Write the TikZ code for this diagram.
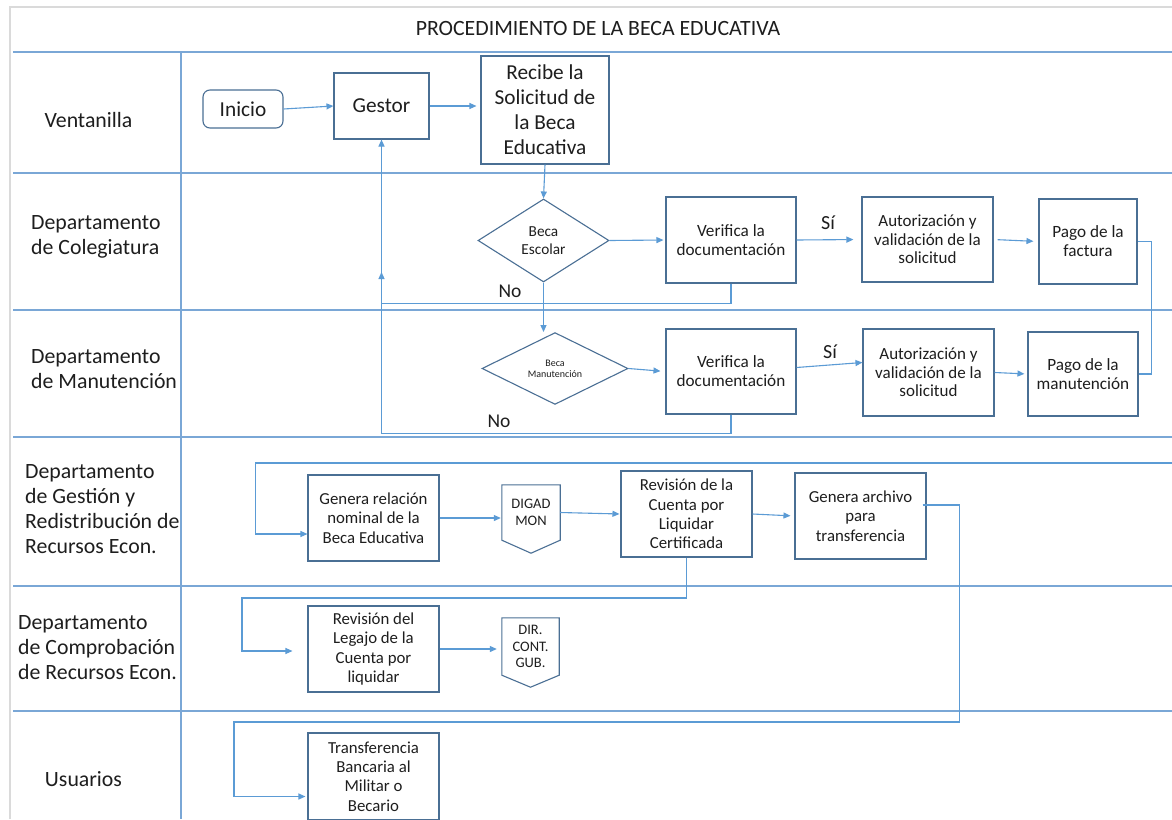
\documentclass[tikz,border=0pt]{standalone}
\usepackage{fontspec}
\setmainfont{Carlito}
\usetikzlibrary{arrows.meta,shapes.geometric,calc}
\definecolor{lanec}{HTML}{7AA7D6}
\definecolor{boxc}{HTML}{4A6F94}
\definecolor{arrc}{HTML}{5B9BD5}
\definecolor{txt}{HTML}{1E1E1E}
\definecolor{edgec}{HTML}{DADADA}
\begin{document}
\begin{tikzpicture}[x=1pt,y=-1pt,
  box/.style={draw=boxc, line width=1.1pt, rectangle, inner sep=0pt, align=center, text=txt},
  dia/.style={draw=boxc, line width=1.1pt, diamond, inner sep=0pt, align=center, text=txt},
  lbl/.style={inner sep=0pt, text=txt},
  lane/.style={draw=lanec, line width=1.4pt},
  conn/.style={draw=arrc, line width=1.1pt},
  arr/.style={conn, -{Triangle[length=7pt,width=6pt]}},
  fa/.style={font=\fontsize{21.8}{25}\selectfont},
  fg/.style={font=\fontsize{21.3}{25}\selectfont},
  ft/.style={font=\fontsize{21.8}{24}\selectfont},
  fv/.style={font=\fontsize{17.2}{19}\selectfont},
  fb/.style={font=\fontsize{16.8}{19.3}\selectfont},
  fau/.style={font=\fontsize{17}{18.7}\selectfont},
  fd/.style={font=\fontsize{15.3}{18}\selectfont},
  fm/.style={font=\fontsize{10}{11}\selectfont},
  fo/.style={font=\fontsize{14.5}{16.5}\selectfont},
  fs/.style={font=\fontsize{20}{22}\selectfont},
  fn/.style={font=\fontsize{19.5}{23}\selectfont}]
\useasboundingbox (0,0) rectangle (1172,819);
\clip (0,0) rectangle (1172,819);
\fill[white] (0,0) rectangle (1172,819);
% page edges
\draw[edgec, line width=2pt] (10,819) -- (10,7) -- (1172,7);
% lanes
\foreach \yy in {52,173,310,437,586,711}{
  \draw[lane] (13,\yy) -- (1172,\yy);
}
\draw[lane] (181,52) -- (181,819);
% title
\node[lbl, ft] (title) at (598,29) {PROCEDIMIENTO DE LA BECA EDUCATIVA};
% lane labels
\node[lbl, fa] (l1) at (88.5,120) {Ventanilla};
\node[lbl, fa, anchor=west, align=left] (l2) at (31,236.5) {Departamento\\de Colegiatura};
\node[lbl, fa, anchor=west, align=left] (l3) at (31,369) {Departamento\\de Manutención};
\node[lbl, fa, anchor=west, align=left] (l4) at (25,509.5) {Departamento\\de Gestión y\\Redistribución de\\Recursos Econ.};
\node[lbl, fa, anchor=west, align=left] (l5) at (18,648) {Departamento\\de Comprobación\\de Recursos Econ.};
\node[lbl, fa] (l6) at (83.5,779) {Usuarios};
% Ventanilla
\node[box, fg, rounded corners=7pt, minimum width=80pt, minimum height=38pt] (inicio) at (243,109) {Inicio};
\node[box, fg, minimum width=95pt, minimum height=66pt] (gestor) at (381.5,106) {Gestor};
\node[box, fg, minimum width=128pt, minimum height=108pt] (recibe) at (545,110) {Recibe la\\Solicitud de\\la Beca\\Educativa};
% Colegiatura
\node[dia, fd, minimum width=131pt, minimum height=83pt] (d1) at (543.5,240.5) {Beca\\Escolar};
\node[box, fv, minimum width=130pt, minimum height=86pt] (ver1) at (731,240) {Verifica la\\documentación};
\node[box, fau, minimum width=131pt, minimum height=85pt] (aut1) at (927.5,239.5) {Autorización y\\validación de la\\solicitud};
\node[box, fv, minimum width=98pt, minimum height=85pt] (pago1) at (1088,241.5) {Pago de la\\factura};
% Manutencion
\node[dia, fm, minimum width=146pt, minimum height=61pt] (d2) at (555,368.5) {Beca\\Manutención};
\node[box, fv, minimum width=130pt, minimum height=85pt] (ver2) at (731,371.5) {Verifica la\\documentación};
\node[box, fau, minimum width=131pt, minimum height=87pt] (aut2) at (928.5,372.5) {Autorización y\\validación de la\\solicitud};
\node[box, fv, minimum width=110pt, minimum height=84pt] (pago2) at (1083,374) {Pago de la\\manutención};
% Gestion
\node[box, fb, minimum width=131pt, minimum height=86pt] (genera) at (373.5,518) {Genera relación\\nominal de la\\Beca Educativa};
\node[lbl, fo, align=center, minimum width=58pt, minimum height=55pt] (digad) at (531,512.5) {DIGAD\\MON};
\draw[boxc, line width=1.1pt] (digad.north west) -- (digad.north east) -- (digad.south east) -- ($(digad.south)+(0,13)$) -- (digad.south west) -- cycle;
\node[box, fb, minimum width=131pt, minimum height=86pt] (revc) at (686.5,514) {Revisión de la\\Cuenta por\\Liquidar\\Certificada};
\node[box, fb, minimum width=131pt, minimum height=86pt] (genarch) at (860.5,516) {Genera archivo\\para\\transferencia};
% Comprobacion
\node[box, fb, minimum width=131pt, minimum height=86pt] (legajo) at (373.5,649) {Revisión del\\Legajo de la\\Cuenta por\\liquidar};
\node[lbl, fo, align=center, minimum width=57pt, minimum height=57pt] (dir) at (530.5,646.5) {DIR.\\CONT.\\GUB.};
\draw[boxc, line width=1.1pt] (dir.north west) -- (dir.north east) -- (dir.south east) -- ($(dir.south)+(0,12)$) -- (dir.south west) -- cycle;
% Usuarios
\node[box, fb, minimum width=131pt, minimum height=87pt] (transf) at (373.5,776.5) {Transferencia\\Bancaria al\\Militar o\\Becario};
% connectors
\draw[arr] (inicio.east) -- (gestor.west);
\draw[arr, shorten >=4pt] (gestor.east) -- (gestor.east -| recibe.west);
\draw[arr] (recibe.south) -- (d1.north);
\draw[arr, shorten >=2pt] (d1.east) -- (ver1.west);
\draw[arr, shorten >=8pt] (ver1.east) -- (aut1.west);
\node[lbl, fs] (si1) at (828,223) {Sí};
\draw[arr, shorten <=4pt, shorten >=5pt] (aut1.east) -- (pago1.west);
\draw[conn] (pago1.east) -- ++(14,0) |- (pago2.east);
\draw[arr] (ver1.south) -- ++(0,20) -| (gestor.south);
\node[lbl, fn] (no1) at (510,291) {No};
\draw[arr] (d1.south) -- (d1.south |- d2.north);
\draw[arr, shorten >=5pt] (d2.east) -- (ver2.west);
\draw[arr] ($(ver2.east)+(0,-4)$) -- ($(aut2.west)+(0,-10)$);
\node[lbl, fs] (si2) at (830,352) {Sí};
\draw[arr, shorten >=3pt] (aut2.east) -- (pago2.west);
\coordinate (lp2end) at (381.5,272);
\draw[arr] (ver2.south) -- ++(0,19) -| (lp2end);
\node[lbl, fn] (no2) at (499,421) {No};
\coordinate (gin) at (1172,463);
\draw[arr] (gin) -| ($(genera.west)+(-52,16)$) -- ($(genera.west)+(0,16)$);
\draw[arr, shorten >=1pt] (genera.east) -- (genera.east -| digad.west);
\draw[arr, shorten >=1pt] (digad.east) -- (revc.west);
\draw[arr, shorten >=4pt] (revc.east) -- (genarch.west);
\draw[arr, shorten >=15pt] (revc.south) |- (242,598) |- ($(legajo.west)+(0,2)$);
\draw[arr, shorten >=5pt] (legajo.east) -- (legajo.east -| dir.west);
\draw[arr, shorten >=2pt] ($(genarch.east)+(-4,-11)$) -- ++(37,0) |- (234,722) |- ($(transf.west)+(0,20)$);
\end{tikzpicture}
\end{document}
